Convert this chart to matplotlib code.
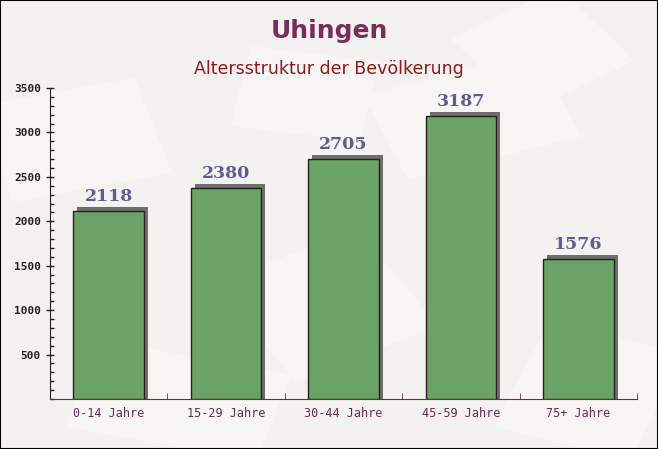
import matplotlib
matplotlib.use("Agg")
import matplotlib.pyplot as plt
import matplotlib.transforms as mtransforms
from matplotlib.patches import Rectangle
from matplotlib.ticker import MultipleLocator

categories = ["0-14 Jahre", "15-29 Jahre", "30-44 Jahre", "45-59 Jahre", "75+ Jahre"]
values = [2118, 2380, 2705, 3187, 1576]
title = "Uhingen"
subtitle = "Altersstruktur der Bevölkerung"

fig = plt.figure(figsize=(6.58, 4.49), dpi=100)
fig.patch.set_facecolor("#f4f1f1")

# faint decorative background shapes
bg = fig.add_axes([0, 0, 1, 1], zorder=-5)
bg.set_xlim(0, 1); bg.set_ylim(0, 1); bg.axis("off")
for (x, y, w, h, a) in [(0.02, 0.55, 0.25, 0.22, 15), (0.35, 0.72, 0.2, 0.18, -10),
                        (0.62, 0.6, 0.28, 0.2, 20), (0.1, 0.05, 0.3, 0.2, -15),
                        (0.45, 0.15, 0.25, 0.25, 30), (0.75, 0.05, 0.22, 0.25, -20),
                        (0.8, 0.75, 0.2, 0.2, 35)]:
    r = Rectangle((x, y), w, h, angle=a, facecolor="#faf8f7", edgecolor="none", alpha=0.8)
    bg.add_patch(r)

ax = fig.add_axes([50/658, 1-399/449, 587/658, (399-88)/449])
ax.set_facecolor("none")
xs = list(range(len(categories)))
width = 0.6
ymax = 3500
off_px = 4
off_data = off_px * ymax / 311.0

shadow_tr = ax.transData + mtransforms.ScaledTranslation(off_px/100, off_px/100, fig.dpi_scale_trans)
ax.bar(xs, [v + off_data for v in values], bottom=-off_data, width=width, color="#6e6e6e",
       edgecolor="none", transform=shadow_tr, zorder=2, clip_on=True)
ax.bar(xs, values, width=width, color="#6ba265", edgecolor="#222222", linewidth=1, zorder=3)

for x, v in zip(xs, values):
    ax.annotate(str(v), (x, v), xytext=(0, 4), textcoords="offset points",
                ha="center", va="bottom", fontsize=12.5, fontweight="bold",
                family="DejaVu Serif", color="#5b5e8f", zorder=4)

ax.set_xlim(-0.5, len(categories) - 0.5)
ax.set_ylim(0, ymax)
ax.yaxis.set_minor_locator(MultipleLocator(100))
ax.set_yticks([500, 1000, 1500, 2000, 2500, 3000, 3500])
ax.tick_params(axis="y", which="major", direction="inout", length=6, width=1, color="#222222",
               labelsize=8, labelcolor="#222222")
ax.tick_params(axis="y", which="minor", direction="in", length=3, width=1, color="#222222")
for lbl in ax.get_yticklabels():
    lbl.set_family("DejaVu Sans Mono"); lbl.set_fontweight("bold")

ax.set_xticks(xs)
ax.set_xticklabels(categories, family="DejaVu Sans Mono", fontsize=8.5, color="#6b2a50")
ax.tick_params(axis="x", which="major", length=0, pad=6)
ax.set_xticks([i + 0.5 for i in xs], minor=True)
ax.tick_params(axis="x", which="minor", direction="in", length=4, color="#6b2a50")

for s in ["top", "right"]:
    ax.spines[s].set_visible(False)
ax.spines["left"].set_color("#222222")
ax.spines["bottom"].set_color("#6b2a50")

fig.text(0.5, 1-31/449, title, ha="center", va="center", fontsize=18, fontweight="bold", color="#7b2c5a")
fig.text(0.5, 1-69/449, subtitle, ha="center", va="center", fontsize=12.5, color="#8b1a1a")

border = Rectangle((0, 0), 1, 1, transform=fig.transFigure, fill=False, edgecolor="black", linewidth=1.5)
fig.patches.append(border)

fig.savefig("out.png", dpi=100, facecolor=fig.get_facecolor())
